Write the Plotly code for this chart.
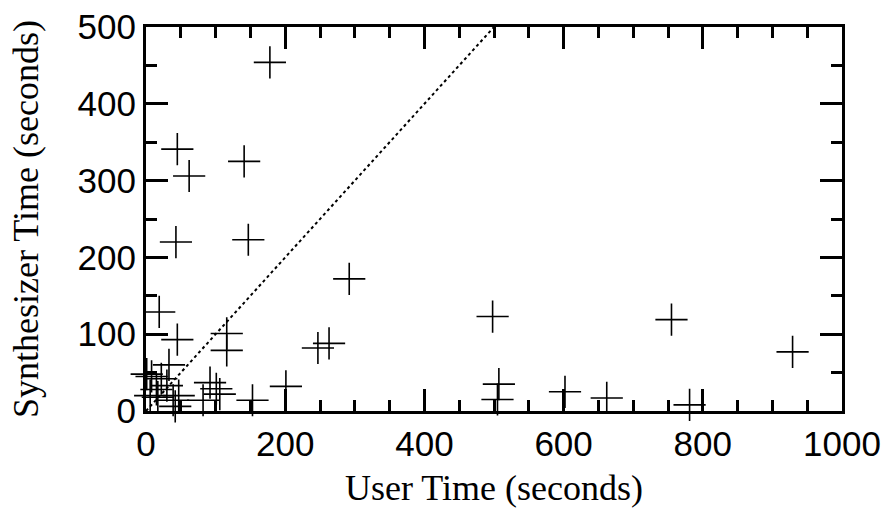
import plotly.graph_objects as go

user_time = [178, 45, 62, 141, 43, 147, 292, 19, 45, 116, 116, 33, 247, 263,
             498, 507, 505, 602, 662, 755, 781, 929, 92, 101, 106, 82, 153, 201,
             1, 8, 22, 30, 15, 6, 47, 39, 42, 17]
synth_time = [454, 341, 306, 325, 220, 223, 172, 129, 93, 101, 79, 60, 82, 88,
              123, 35, 15, 25, 17, 119, 8, 77, 37, 29, 22, 14, 14, 32,
              48, 45, 42, 33, 28, 20, 20, 14, 6, 18]
diag_x = [0, 500]
diag_y = [0, 500]

fig = go.Figure()
fig.add_trace(go.Scatter(x=diag_x, y=diag_y, mode="lines",
                         line=dict(color="black", width=2, dash="dot"),
                         showlegend=False, hoverinfo="skip"))
fig.add_trace(go.Scatter(x=user_time, y=synth_time, mode="markers",
                         marker=dict(symbol="cross-thin-open", size=23, color="black",
                                     line=dict(color="black", width=1.6)),
                         cliponaxis=False, showlegend=False))

tickfont = dict(family="Liberation Sans, Arial, sans-serif", size=35, color="black")
titlefont = dict(family="Liberation Serif, Times New Roman, serif", size=36, color="black")

fig.update_xaxes(range=[0, 1000], tickvals=[0, 200, 400, 600, 800, 1000],
                 ticks="inside", ticklen=22, tickwidth=3, tickcolor="black",
                 minor=dict(dtick=50, ticks="inside", ticklen=11, tickwidth=3, tickcolor="black"),
                 showline=True, linewidth=3, linecolor="black", mirror="allticks",
                 showgrid=False, zeroline=False, tickfont=tickfont, automargin=False,
                 ticklabeloverflow="allow",
                 title=dict(text="User Time (seconds)", font=titlefont, standoff=27))
fig.update_yaxes(range=[0, 500], tickvals=[0, 100, 200, 300, 400, 500],
                 ticks="inside", ticklen=22, tickwidth=3, tickcolor="black",
                 minor=dict(dtick=50, ticks="inside", ticklen=11, tickwidth=3, tickcolor="black"),
                 showline=True, linewidth=3, linecolor="black", mirror="allticks",
                 showgrid=False, zeroline=False, tickfont=tickfont, automargin=False,
                 ticklabeloverflow="allow",
                 title=dict(text="Synthesizer Time (seconds)", font=titlefont, standoff=28))

fig.update_layout(width=891, height=508, plot_bgcolor="white", paper_bgcolor="white",
                  margin=dict(l=146, r=49, t=27, b=97))
fig.write_html("out.html", config={"displayModeBar": False})

# remove the browser's default 8px body margin so the figure fills the window
with open("out.html", encoding="utf-8") as f:
    html = f.read()
html = html.replace("<head>", "<head><style>html,body{margin:0;padding:0;overflow:hidden;}</style>", 1)
with open("out.html", "w", encoding="utf-8") as f:
    f.write(html)
